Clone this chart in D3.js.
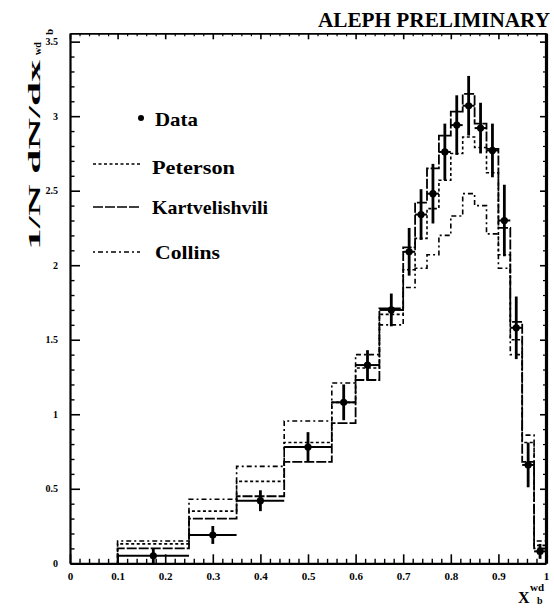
<!DOCTYPE html>
<html>
<head>
<meta charset="utf-8">
<script src="https://cdn.jsdelivr.net/npm/d3@7/dist/d3.min.js"></script>
<style>
  html, body { margin: 0; padding: 0; background: #fff; }
  svg { display: block; }
  text { font-family: "Liberation Serif", "Times New Roman", serif; font-weight: bold; fill: #000; }
</style>
</head>
<body>
<svg id="chart" width="554" height="608"></svg>
<script>
// Bin edges of the x_b^wd histogram (variable bin width)
const binEdges = [0.1, 0.25, 0.35, 0.45, 0.55, 0.6, 0.65, 0.7, 0.725, 0.75, 0.775, 0.8,
                  0.825, 0.85, 0.875, 0.9, 0.925, 0.95, 0.975, 1.0];

// Measured distribution with statistical errors, one entry per bin
const dataValues = [0.05, 0.19, 0.42, 0.78, 1.08, 1.33, 1.70, 2.09, 2.34, 2.48, 2.76, 2.94,
                    3.07, 2.92, 2.77, 2.30, 1.58, 0.66, 0.08];
const dataErrors = [0.05, 0.06, 0.07, 0.10, 0.12, 0.10, 0.11, 0.16, 0.17, 0.20, 0.19, 0.20,
                    0.20, 0.17, 0.18, 0.24, 0.21, 0.15, 0.05];

// Fragmentation model predictions, one entry per bin
const peterson       = [0.13, 0.35, 0.55, 0.81, 1.08, 1.31, 1.67, 1.97, 2.18, 2.38, 2.57, 2.75,
                        2.86, 2.79, 2.62, 2.07, 1.50, 0.81, 0.12];
const kartvelishvili = [0.10, 0.30, 0.45, 0.68, 0.94, 1.23, 1.71, 2.12, 2.42, 2.65, 2.87, 3.03,
                        3.15, 2.95, 2.78, 2.25, 1.62, 0.68, 0.10];
const collins        = [0.15, 0.43, 0.65, 0.955, 1.21, 1.40, 1.60, 1.85, 1.98, 2.07, 2.20, 2.33,
                        2.48, 2.40, 2.21, 1.98, 1.40, 0.86, 0.15];

const xTickValues = [0, 0.1, 0.2, 0.3, 0.4, 0.5, 0.6, 0.7, 0.8, 0.9, 1];
const xTickLabels = ["0", "0.1", "0.2", "0.3", "0.4", "0.5", "0.6", "0.7", "0.8", "0.9", "1"];
const yTickValues = [0, 0.5, 1, 1.5, 2, 2.5, 3, 3.5];
const yTickLabels = ["0", "0.5", "1", "1.5", "2", "2.5", "3", "3.5"];
const legendLabels = ["Data", "Peterson", "Kartvelishvili", "Collins"];

const svg = d3.select("#chart");
const x = d3.scaleLinear().domain([0, 1]).range([70, 546]);
const y = d3.scaleLinear().domain([0, 3.556]).range([563.3, 33.3]);
const [x0, x1] = x.range();
const [yb, yt] = y.range();

const styles = {
  peterson:       { dash: "3,2.5", width: 1.6 },
  kartvelishvili: { dash: "10,2", width: 1.8 },
  collins:        { dash: "2,3,5,3", width: 1.6 }
};

// ---- axes ----
const minorX = d3.range(0, 1.0001, 0.02).filter(v => Math.abs(v * 10 - Math.round(v * 10)) > 1e-6);
const minorY = d3.range(0, 3.5001, 0.1).filter(v => Math.abs(v * 2 - Math.round(v * 2)) > 1e-6);

function styleAxis(g, sw) {
  g.selectAll("path.domain").attr("stroke", "#000").attr("stroke-width", sw);
  g.selectAll(".tick line").attr("stroke", "#000").attr("stroke-width", 1.6);
  g.selectAll(".tick text").style("font-size", "11px").style("font-weight", "bold")
    .attr("font-family", "Liberation Serif, serif");
}

// bottom
const gx = svg.append("g").attr("transform", `translate(0,${yb})`)
  .call(d3.axisBottom(x).tickValues(xTickValues).tickSize(-9).tickSizeOuter(0).tickPadding(9)
    .tickFormat((d, i) => xTickLabels[i]));
styleAxis(gx, 2.2);
svg.append("g").attr("transform", `translate(0,${yb})`)
  .call(d3.axisBottom(x).tickValues(minorX).tickSize(-4.5).tickSizeOuter(0).tickFormat(""))
  .call(g => { g.select("path.domain").remove(); g.selectAll(".tick line").attr("stroke-width", 1.4); });

// top
const gxt = svg.append("g").attr("transform", `translate(0,${yt})`)
  .call(d3.axisTop(x).tickValues(xTickValues).tickSize(-6).tickSizeOuter(0).tickFormat(""));
styleAxis(gxt, 1.8);
svg.append("g").attr("transform", `translate(0,${yt})`)
  .call(d3.axisTop(x).tickValues(minorX).tickSize(-3).tickSizeOuter(0).tickFormat(""))
  .call(g => { g.select("path.domain").remove(); g.selectAll(".tick line").attr("stroke-width", 1.2); });

// left
const gy = svg.append("g").attr("transform", `translate(${x0},0)`)
  .call(d3.axisLeft(y).tickValues(yTickValues).tickSize(-10).tickSizeOuter(0).tickPadding(12)
    .tickFormat((d, i) => yTickLabels[i]));
styleAxis(gy, 2.2);
gy.selectAll(".tick text").style("font-size", "10px");
svg.append("g").attr("transform", `translate(${x0},0)`)
  .call(d3.axisLeft(y).tickValues(minorY).tickSize(-4.5).tickSizeOuter(0).tickFormat(""))
  .call(g => { g.select("path.domain").remove(); g.selectAll(".tick line").attr("stroke-width", 1.4); });

// right
const gyr = svg.append("g").attr("transform", `translate(${x1},0)`)
  .call(d3.axisRight(y).tickValues(yTickValues).tickSize(-6).tickSizeOuter(0).tickFormat(""));
styleAxis(gyr, 3.2);
svg.append("g").attr("transform", `translate(${x1},0)`)
  .call(d3.axisRight(y).tickValues(minorY).tickSize(-3).tickSizeOuter(0).tickFormat(""))
  .call(g => { g.select("path.domain").remove(); g.selectAll(".tick line").attr("stroke-width", 1.2); });

// ---- model histograms ----
function histPoints(vals) {
  const pts = [[binEdges[0], 0]];
  vals.forEach((v, i) => { pts.push([binEdges[i], v]); pts.push([binEdges[i + 1], v]); });
  pts.push([binEdges[binEdges.length - 1], 0]);
  return pts;
}
const stepLine = d3.line().x(d => x(d[0])).y(d => y(d[1]));

const models = [
  { vals: collins, st: styles.collins },
  { vals: peterson, st: styles.peterson },
  { vals: kartvelishvili, st: styles.kartvelishvili }
];
svg.append("g").selectAll("path.model").data(models).join("path")
  .attr("class", "model")
  .attr("d", d => stepLine(histPoints(d.vals)))
  .attr("fill", "none").attr("stroke", "#000")
  .attr("stroke-width", d => d.st.width)
  .attr("stroke-dasharray", d => d.st.dash);

// ---- data points ----
const pts = dataValues.map((v, i) => ({
  lo: binEdges[i], hi: binEdges[i + 1], c: (binEdges[i] + binEdges[i + 1]) / 2, v, e: dataErrors[i]
}));
const gd = svg.append("g");
gd.selectAll("line.hbar").data(pts).join("line").attr("class", "hbar")
  .attr("x1", d => x(d.lo)).attr("x2", d => x(d.hi))
  .attr("y1", d => y(d.v)).attr("y2", d => y(d.v))
  .attr("stroke", "#000").attr("stroke-width", 2);
gd.selectAll("line.vbar").data(pts).join("line").attr("class", "vbar")
  .attr("x1", d => x(d.c)).attr("x2", d => x(d.c))
  .attr("y1", d => y(Math.max(0, d.v - d.e))).attr("y2", d => y(d.v + d.e))
  .attr("stroke", "#000").attr("stroke-width", 2.8);
gd.selectAll("circle").data(pts).join("circle")
  .attr("cx", d => x(d.c)).attr("cy", d => y(d.v)).attr("r", 3.6).attr("fill", "#000");

// ---- legend ----
const lg = svg.append("g");
lg.append("circle").attr("cx", 141).attr("cy", 118).attr("r", 3).attr("fill", "#000");
const legendRows = [
  { label: legendLabels[0], tx: 155, ty: 126, len: 43 },
  { label: legendLabels[1], tx: 152, ty: 174, len: 83, ly: 164, st: styles.peterson },
  { label: legendLabels[2], tx: 152, ty: 214, len: 116, ly: 207, st: styles.kartvelishvili },
  { label: legendLabels[3], tx: 155, ty: 259, len: 65, ly: 252, st: styles.collins }
];
legendRows.forEach(r => {
  lg.append("text").attr("x", r.tx).attr("y", r.ty).style("font-size", "19px")
    .attr("textLength", r.len).attr("lengthAdjust", "spacingAndGlyphs").text(r.label);
  if (r.st) {
    lg.append("line").attr("x1", 93).attr("x2", 140).attr("y1", r.ly).attr("y2", r.ly)
      .attr("stroke", "#000").attr("stroke-width", 1.5).attr("stroke-dasharray", r.st.dash);
  }
});

// ---- title ----
svg.append("text").attr("x", 550).attr("y", 27).attr("text-anchor", "end")
  .style("font-size", "21px").attr("textLength", 232).attr("lengthAdjust", "spacingAndGlyphs")
  .text("ALEPH PRELIMINARY");

// ---- y axis title (rotated) ----
const ytg = svg.append("g").attr("transform", "translate(40,250) rotate(-90)");
ytg.append("text").attr("x", 0).attr("y", 0).style("font-size", "16px")
  .attr("textLength", 190).attr("lengthAdjust", "spacingAndGlyphs").text("1/N dN/dx");
ytg.append("text").attr("x", 195).attr("y", 1).style("font-size", "10px").text("wd");
ytg.append("text").attr("x", 215).attr("y", 13).style("font-size", "11px").text("b");

// ---- x axis title ----
svg.append("text").attr("x", 518).attr("y", 603).style("font-size", "16px").text("X");
svg.append("text").attr("x", 530).attr("y", 591).style("font-size", "11px").text("wd");
svg.append("text").attr("x", 537).attr("y", 604).style("font-size", "10px").text("b");
</script>
</body>
</html>
